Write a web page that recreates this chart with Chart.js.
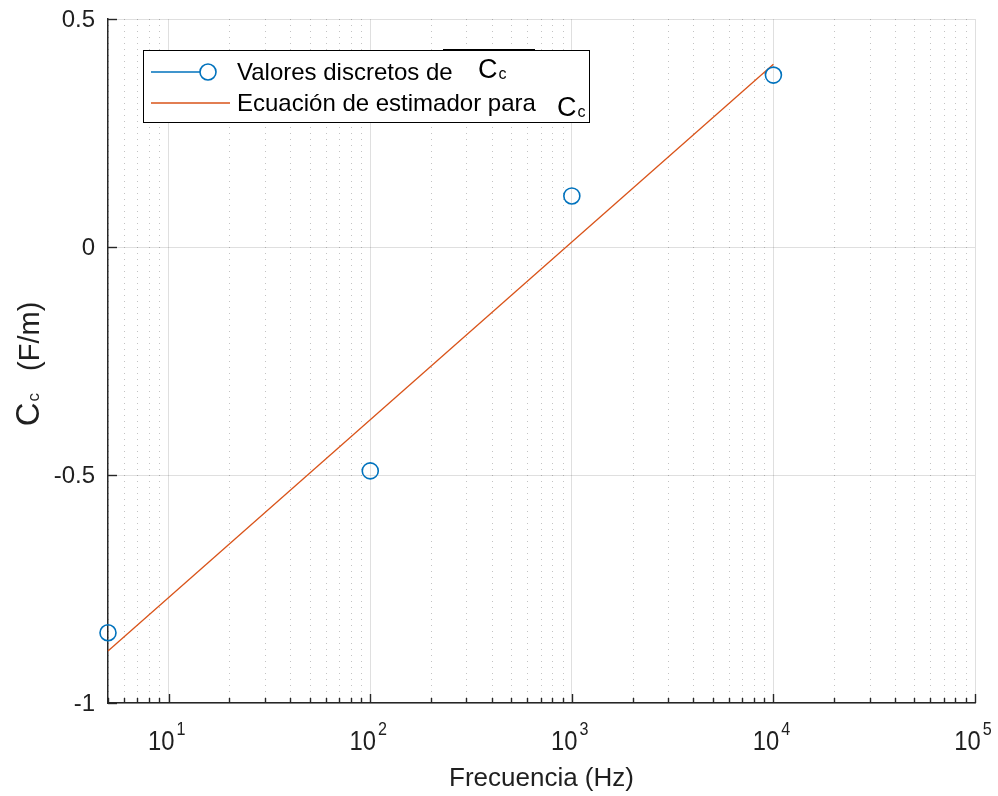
<!DOCTYPE html>
<html>
<head>
<meta charset="utf-8">
<style>
  html, body { margin: 0; padding: 0; background: #ffffff; }
  #wrap { width: 998px; height: 796px; }
</style>
<script src="https://cdn.jsdelivr.net/npm/chart.js@4.4.1/dist/chart.umd.min.js"></script>
</head>
<body>
<div id="wrap"><canvas id="chart" width="998" height="796"></canvas></div>
<script>
// Measured capacitance values per frequency
const freqs = [5, 100, 1000, 10000];
const ccValues = [-0.846, -0.491, 0.112, 0.377];

// Estimator line (linear in log10 of frequency), end points
const fitFreqs = [5, 10000];
const fitValues = [-0.886, 0.401];

// Axis ticks
const xDecades = [10, 100, 1000, 10000, 100000];
const xExponents = ['1', '2', '3', '4', '5'];
const yTicks = [-1, -0.5, 0, 0.5];
const yTickLabels = ['-1', '-0.5', '0', '0.5'];

const AXIS_COLOR = '#262626';
const TEXT_COLOR = '#1f1f1f';
const BLUE = '#0072BD';
const ORANGE = '#D95319';
const FONT = "'Liberation Sans', Arial, Helvetica, sans-serif";

function drawSubscripted(ctx, x, y, big, small, bigSize, smallSize, drop) {
  ctx.font = bigSize + 'px ' + FONT;
  ctx.fillText(big, x, y);
  const w = ctx.measureText(big).width;
  ctx.font = smallSize + 'px ' + FONT;
  ctx.fillText(small, x + w + 1, y + drop);
  return w + 1 + ctx.measureText(small).width;
}

const decor = {
  id: 'decor',
  beforeDatasetsDraw(chart) {
    const { ctx, chartArea: a, scales: { x } } = chart;
    ctx.save();
    ctx.strokeStyle = 'rgba(38,38,38,0.28)';
    ctx.lineWidth = 1;
    ctx.setLineDash([1, 5]);
    for (let d = 1; d < 100000; d *= 10) {
      for (let k = 2; k <= 9; k++) {
        const v = k * d;
        if (v < x.min || v > x.max) continue;
        const px = Math.round(x.getPixelForValue(v)) + 0.5;
        ctx.beginPath();
        ctx.moveTo(px, a.top);
        ctx.lineTo(px, a.bottom);
        ctx.stroke();
      }
    }
    ctx.restore();
  },
  afterDraw(chart) {
    const { ctx, chartArea: a, scales: { x, y } } = chart;
    ctx.save();
    ctx.strokeStyle = AXIS_COLOR;
    ctx.fillStyle = TEXT_COLOR;
    ctx.lineWidth = 1.4;

    // inward tick marks on the x axis
    for (let d = 1; d <= 100000; d *= 10) {
      for (let k = 1; k <= 9; k++) {
        const v = k * d;
        if (v < x.min || v > x.max) continue;
        const px = Math.round(x.getPixelForValue(v)) + 0.5;
        const len = k === 1 ? 9 : 5;
        ctx.beginPath();
        ctx.moveTo(px, a.bottom);
        ctx.lineTo(px, a.bottom - len);
        ctx.stroke();
      }
    }
    // inward tick marks on the y axis
    yTicks.forEach(v => {
      const py = Math.round(y.getPixelForValue(v)) + 0.5;
      ctx.beginPath();
      ctx.moveTo(a.left, py);
      ctx.lineTo(a.left + 9, py);
      ctx.stroke();
    });

    // y tick labels
    ctx.font = '24px ' + FONT;
    ctx.textAlign = 'right';
    ctx.textBaseline = 'middle';
    yTicks.forEach((v, i) => {
      ctx.fillText(yTickLabels[i], a.left - 13, y.getPixelForValue(v) + 1);
    });

    // x tick labels: 10 with raised exponent (slightly condensed)
    ctx.textAlign = 'left';
    ctx.textBaseline = 'alphabetic';
    const squeeze = 0.85;
    xDecades.forEach((v, i) => {
      const px = x.getPixelForValue(v);
      ctx.font = '28px ' + FONT;
      const wb = ctx.measureText('10').width * squeeze;
      ctx.font = '19px ' + FONT;
      const we = ctx.measureText(xExponents[i]).width * squeeze;
      const x0 = px - (wb + 2 + we) / 2 - 2;
      ctx.save();
      ctx.translate(x0, 750);
      ctx.scale(squeeze, 1);
      ctx.font = '28px ' + FONT;
      ctx.fillText('10', 0, 0);
      ctx.restore();
      ctx.save();
      ctx.translate(x0 + wb + 2, 735);
      ctx.scale(squeeze, 1);
      ctx.font = '19px ' + FONT;
      ctx.fillText(xExponents[i], 0, 0);
      ctx.restore();
    });

    // x axis title
    ctx.font = '26px ' + FONT;
    ctx.textAlign = 'center';
    ctx.fillText('Frecuencia (Hz)', (a.left + a.right) / 2, 786);

    // y axis title, rotated
    ctx.save();
    ctx.translate(39, 364);
    ctx.rotate(-Math.PI / 2);
    ctx.textAlign = 'left';
    ctx.font = '33px ' + FONT;
    const wC = ctx.measureText('C').width;
    ctx.font = '17px ' + FONT;
    const wc = ctx.measureText('c').width;
    ctx.font = '29px ' + FONT;
    const wU = ctx.measureText('(F/m)').width;
    const gap = 22;
    const total = wC + 1 + wc + gap + wU;
    let tx = -total / 2;
    ctx.font = '33px ' + FONT;
    ctx.fillText('C', tx, 0);
    tx += wC + 1;
    ctx.font = '17px ' + FONT;
    ctx.fillText('c', tx, 0);
    tx += wc + gap;
    ctx.font = '29px ' + FONT;
    ctx.fillText('(F/m)', tx, 0);
    ctx.restore();

    // legend box
    ctx.fillStyle = '#ffffff';
    ctx.fillRect(143, 50, 447, 73);
    ctx.strokeStyle = '#000000';
    ctx.lineWidth = 1;
    ctx.strokeRect(143.5, 50.5, 446, 72);
    ctx.lineWidth = 2;
    ctx.beginPath();
    ctx.moveTo(443, 50);
    ctx.lineTo(535, 50);
    ctx.stroke();

    // legend entry 1: blue line with circle marker
    ctx.lineWidth = 1.3;
    ctx.strokeStyle = BLUE;
    ctx.beginPath();
    ctx.moveTo(151, 72);
    ctx.lineTo(200, 72);
    ctx.stroke();
    ctx.lineWidth = 1.6;
    ctx.beginPath();
    ctx.arc(208, 72, 8, 0, Math.PI * 2);
    ctx.stroke();

    // legend entry 2: orange line
    ctx.strokeStyle = ORANGE;
    ctx.lineWidth = 1.3;
    ctx.beginPath();
    ctx.moveTo(151, 103);
    ctx.lineTo(230, 103);
    ctx.stroke();

    ctx.fillStyle = '#000000';
    ctx.textAlign = 'left';
    ctx.textBaseline = 'alphabetic';
    ctx.font = '24px ' + FONT;
    ctx.fillText('Valores discretos de', 237, 80);
    ctx.fillText('Ecuación de estimador para', 237, 111);
    drawSubscripted(ctx, 478, 78, 'C', 'c', 27, 16, 1);
    drawSubscripted(ctx, 557, 116, 'C', 'c', 27, 16, 1);

    ctx.restore();
  }
};

const chart = new Chart(document.getElementById('chart'), {
  type: 'scatter',
  data: {
    datasets: [
      {
        label: 'Valores discretos de Cc',
        data: freqs.map((f, i) => ({ x: f, y: ccValues[i] })),
        showLine: false,
        pointStyle: 'circle',
        pointRadius: 8,
        pointHoverRadius: 8,
        pointBorderWidth: 1.6,
        pointBorderColor: BLUE,
        pointBackgroundColor: 'rgba(0,0,0,0)',
        clip: false,
        order: 1
      },
      {
        label: 'Ecuación de estimador para Cc',
        data: fitFreqs.map((f, i) => ({ x: f, y: fitValues[i] })),
        showLine: true,
        borderColor: ORANGE,
        borderWidth: 1.3,
        pointRadius: 0,
        pointHoverRadius: 0,
        clip: false,
        order: 2
      }
    ]
  },
  options: {
    responsive: false,
    animation: false,
    devicePixelRatio: 1,
    layout: { padding: { top: 19, right: 23, left: 0, bottom: 0 } },
    plugins: {
      legend: { display: false },
      tooltip: { enabled: false }
    },
    scales: {
      x: {
        type: 'logarithmic',
        min: 5,
        max: 100000,
        afterBuildTicks: s => { s.ticks = xDecades.map(v => ({ value: v })); },
        afterFit: s => { s.height = 93; },
        ticks: { display: false },
        grid: { color: 'rgba(38,38,38,0.15)', lineWidth: 1, drawTicks: false },
        border: { display: true, color: AXIS_COLOR, width: 1.5 }
      },
      y: {
        type: 'linear',
        min: -1,
        max: 0.5,
        afterBuildTicks: s => { s.ticks = yTicks.map(v => ({ value: v })); },
        afterFit: s => { s.width = 108; },
        ticks: { display: false },
        grid: { color: 'rgba(38,38,38,0.15)', lineWidth: 1, drawTicks: false },
        border: { display: true, color: AXIS_COLOR, width: 1.5 }
      }
    }
  },
  plugins: [decor]
});
</script>
</body>
</html>
